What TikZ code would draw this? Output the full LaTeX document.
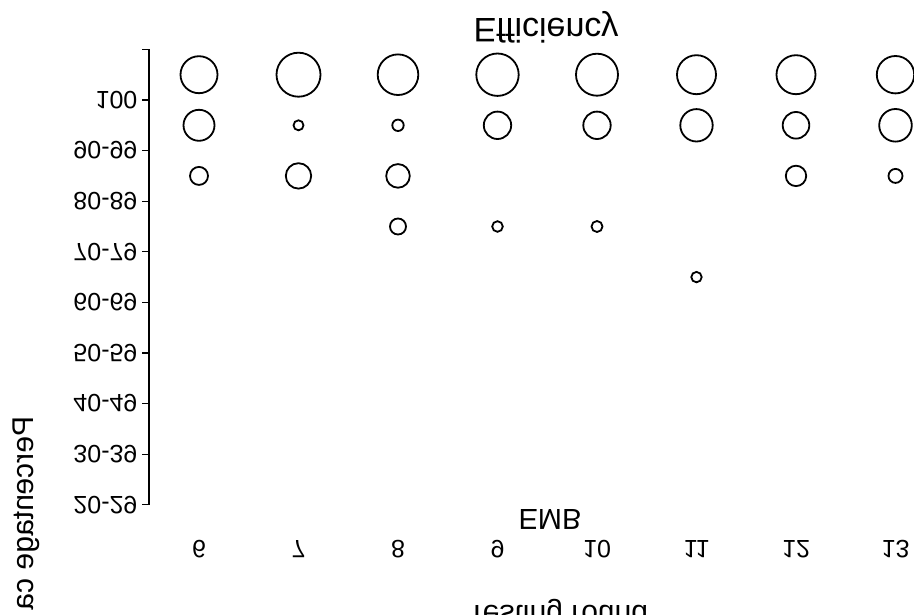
\documentclass[tikz,border=0pt]{standalone}
\usepackage{fontspec}
\setmainfont{Liberation Sans}
\usepackage{tikz}
\usetikzlibrary{calc}
\tikzset{flip/.style={yscale=-1, inner sep=0}}
\tikzset{flipv/.style={rotate=-90, yscale=-1, inner sep=0}}

\begin{document}
\begin{tikzpicture}[x=1pt, y=-1pt, line width=1.2pt]
\path[use as bounding box] (0,0) rectangle (914,615);
\clip (0,0) rectangle (914,615);
% axis and category ticks
\draw (142,49.4) -- (149,49.4) -- (149,504.8) -- (142,504.8);
\foreach \lab [count=\k, evaluate=\k as \yy using 49.4+50.6*\k] in {100,90-99,80-89,70-79,60-69,50-59,40-49,30-39,20-29} {
  \draw (142,\yy) -- (149,\yy);
  \node[flip, anchor=east, font=\fontsize{25}{30}\selectfont] (ylab\k) at (138,\yy) {\lab};
}
% testing rounds
\foreach \r [evaluate=\r as \xx using 199+99.5*(\r-6)] in {6,...,13} {
  \node[flip, font=\fontsize{25}{30}\selectfont] (xlab\r) at (\xx,549) {\r};
}
% bubbles: round/row/radius
\foreach \r/\row/\rad in {6/1/18.5, 6/2/15.5, 6/3/9,
    7/1/22, 7/2/5, 7/3/12.7,
    8/1/20.3, 8/2/5.7, 8/3/11.8, 8/4/8,
    9/1/21.2, 9/2/13.7, 9/4/5.3,
    10/1/21, 10/2/13.7, 10/4/5.5,
    11/1/19.5, 11/2/16.2, 11/5/5.2,
    12/1/19.5, 12/2/13.3, 12/3/10.2,
    13/1/18.7, 13/2/16.3, 13/3/7} {
  \draw[line width=1.8pt] ({199+99.5*(\r-6)},{49.4+50.6*(\row-0.5)}) circle (\rad pt);
}
\node[flip, font=\fontsize{34}{40}\selectfont] (title) at (546,27) {Efficiency};
\node[flip, font=\fontsize{29}{34}\selectfont] (group) at (550,519) {EMB};
\node[flip, anchor=base, font=\fontsize{30}{36}\selectfont] (xtitle) at (558,605) {Testing round};
\node[flipv, anchor=base west, font=\fontsize{30}{36}\selectfont] (ytitle) at (34,416) {Percentage ca};
\end{tikzpicture}
\end{document}
